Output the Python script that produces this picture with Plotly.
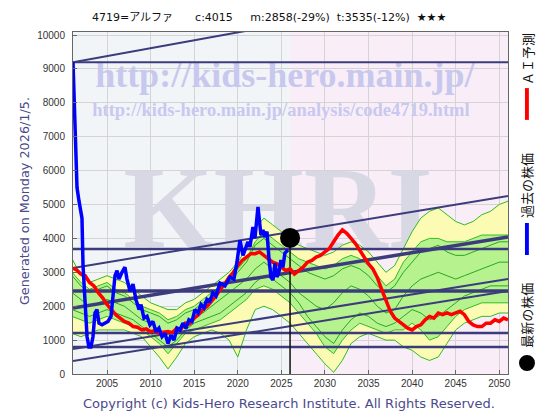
import plotly.graph_objects as go

# --- chart data ---
TITLE = "4719=アルファ\u3000\u3000c:4015\u00a0\u00a0\u00a0\u00a0\u00a0m:2858(-29%)\u00a0\u00a0t:3535(-12%)\u00a0\u00a0★★★"

X_TICKS = list(range(2005, 2051, 5))
Y_TICKS = list(range(0, 10001, 1000))
Y_LABELS = [str(v) for v in Y_TICKS]

BAND_YEARS = list(range(2001, 2052))
OUTER_HI = [3400, 2900, 2700, 2800, 2900, 2800, 2700, 2500, 2300, 2100, 2000, 1900, 1900, 2100, 2200, 2400, 2600,
            2800, 3000, 3300, 3700, 4300, 4600, 4400, 4200, 4000, 3800, 3700, 3600, 3500, 3600, 3800, 3900, 3800,
            3600, 3300, 3000, 3200, 3700, 4200, 4600, 4800, 4900, 4700, 4500, 4400, 4500, 4700, 4800, 5000, 5100]
OUTER_LO = [1200, 1100, 1200, 1300, 1300, 1300, 1300, 1200, 1100, 800, 500, 150, 500, 900, 1100, 1200, 1300,
            1200, 1000, 500, 1300, 1900, 2000, 1900, 1700, 1500, 1200, 900, 600, 300, 50, 400, 900, 1100,
            1200, 1100, 1000, 1000, 800, 700, 500, 400, 500, 900, 1300, 1500, 1600, 1700, 1700, 1800, 1800]
INNER_HI = [3000, 2700, 2500, 2600, 2700, 2500, 2400, 2200, 2000, 1900, 1800, 1600, 1700, 1900, 2000, 2200, 2400,
            2600, 2800, 3100, 3400, 3900, 4200, 4000, 3800, 3600, 3400, 3300, 3200, 3100, 3200, 3400, 3500, 3400,
            3200, 2900, 2600, 2800, 3300, 3600, 3900, 4000, 4000, 3900, 3900, 3900, 4000, 4100, 4100, 4100, 4100]
INNER_LO = [1700, 1600, 1500, 1600, 1700, 1600, 1500, 1400, 1300, 1100, 900, 600, 900, 1200, 1300, 1400, 1500,
            1600, 1800, 2000, 2200, 2500, 2600, 2500, 2300, 2100, 1800, 1500, 1200, 800, 600, 1000, 1300, 1500,
            1400, 1300, 1200, 1300, 1300, 1500, 1300, 1000, 1100, 1400, 1700, 1900, 2000, 2100, 2100, 2100, 2100]
PATH_A = [2900, 2600, 2400, 2500, 2600, 2400, 2300, 2100, 1900, 1800, 1700, 1500, 1600, 1800, 1900, 2100, 2300,
          2500, 2700, 3000, 3300, 3800, 4000, 3800, 3600, 3400, 3200, 3000, 2900, 2800, 2900, 3100, 3200, 3100,
          2900, 2600, 2400, 2600, 3000, 3300, 3600, 3700, 3800, 3600, 3500, 3500, 3600, 3700, 3800, 3900, 3900]
PATH_B = [2400, 2200, 2000, 2100, 2200, 2100, 2000, 1800, 1600, 1500, 1300, 1200, 1300, 1500, 1700, 1800, 2000,
          2200, 2400, 2600, 2800, 3100, 3300, 3100, 2900, 2700, 2400, 2200, 2000, 1900, 2100, 2400, 2600, 2500,
          2300, 2000, 1800, 1900, 2300, 2600, 2800, 2900, 3000, 2900, 2800, 2900, 3000, 3100, 3200, 3300, 3300]
PATH_C = [1900, 1800, 1700, 1800, 1900, 1800, 1700, 1600, 1400, 1200, 1000, 800, 1000, 1300, 1500, 1600, 1700,
          1800, 2000, 2200, 2400, 2700, 2900, 2800, 2600, 2400, 2100, 1700, 1400, 1100, 900, 1300, 1600, 1800,
          1700, 1500, 1400, 1500, 1700, 1900, 1800, 1600, 1700, 1900, 2100, 2300, 2400, 2500, 2600, 2600, 2600]

# AI forecast (red)
RED_YEARS = [2001.1, 2001.6, 2002.0, 2002.5, 2003.0, 2003.5, 2004.0, 2004.5, 2005.0, 2005.5, 2006.0, 2006.5,
             2007.0, 2007.5, 2008.0, 2008.5, 2009.0, 2009.5, 2010.0, 2010.5, 2011.0, 2011.5, 2012.0, 2012.5,
             2013.0, 2013.5, 2014.0, 2014.5, 2015.0, 2015.5, 2016.0, 2016.5, 2017.0, 2017.5, 2018.0, 2018.5,
             2019.0, 2019.5, 2020.0, 2020.5, 2021.0, 2021.5, 2022.0, 2022.5, 2023.0, 2023.5, 2024.0, 2024.5,
             2025.0, 2025.5, 2026.0, 2026.5, 2027.0, 2027.5, 2028.0, 2028.5, 2029.0, 2029.5, 2030.0, 2030.5,
             2031.0, 2031.5, 2032.0, 2032.5, 2033.0, 2033.5, 2034.0, 2034.5, 2035.0, 2035.5, 2036.0, 2036.5,
             2037.0, 2037.5, 2038.0, 2038.5, 2039.0, 2039.5, 2040.0, 2040.5, 2041.0, 2041.5, 2042.0, 2042.5,
             2043.0, 2043.5, 2044.0, 2044.5, 2045.0, 2045.5, 2046.0, 2046.5, 2047.0, 2047.5, 2048.0, 2048.5,
             2049.0, 2049.5, 2050.0, 2050.5, 2051.0]
RED_VALUES = [3130, 3050, 2950, 2900, 2700, 2600, 2400, 2250, 2050, 1900, 1750, 1650,
              1550, 1500, 1400, 1380, 1300, 1330, 1250, 1280, 1200, 1230, 1250, 1220,
              1350, 1330, 1500, 1480, 1650, 1750, 1900, 2000, 2150, 2300, 2500, 2650,
              2850, 3000, 3200, 3350, 3450, 3550, 3550, 3600, 3500, 3400, 3300, 3250,
              3150, 3050, 3100, 2950, 3050, 3150, 3300, 3350, 3450, 3500, 3600, 3700,
              3900, 4100, 4250, 4150, 4000, 3850, 3650, 3450, 3250, 3100, 2850, 2500,
              2150, 1850, 1650, 1550, 1450, 1350, 1300, 1400, 1450, 1600, 1700, 1650,
              1800, 1750, 1800, 1750, 1800, 1850, 1750, 1550, 1450, 1400, 1400, 1500,
              1500, 1600, 1550, 1650, 1600]

# past price (blue)
BLUE_YEARS = [2001.10, 2001.33, 2001.56, 2001.79, 2001.90, 2002.13, 2002.25, 2002.48, 2002.71, 2002.93,
              2003.16, 2003.39, 2003.62, 2003.85, 2004.08, 2004.43, 2004.77, 2005.11, 2005.46, 2005.69,
              2005.92, 2006.15, 2006.38, 2006.72, 2007.06, 2007.29, 2007.64, 2007.98, 2008.32, 2008.67,
              2008.90, 2009.24, 2009.59, 2009.93, 2010.27, 2010.62, 2010.96, 2011.31, 2011.65, 2012.00,
              2012.34, 2012.68, 2013.03, 2013.37, 2013.71, 2014.06, 2014.40, 2014.75, 2015.09, 2015.44,
              2015.78, 2016.12, 2016.47, 2016.81, 2017.15, 2017.50, 2017.96, 2018.53, 2019.10, 2019.56,
              2019.91, 2020.25, 2020.60, 2020.83, 2021.17, 2021.40, 2021.74, 2021.97, 2022.32, 2022.66,
              2022.89, 2023.12, 2023.35, 2023.58, 2023.81, 2024.04, 2024.27, 2024.49, 2024.72, 2024.95,
              2025.18, 2025.41, 2025.76]
BLUE_PRICES = [9200, 7500, 5500, 5100, 4900, 4600, 3200, 1900, 1100, 800,
               800, 1100, 1800, 1900, 1500, 1450, 1500, 1550, 1700, 2450,
               2900, 3050, 2800, 3000, 3150, 2800, 2450, 2650, 2200, 1900,
               2050, 1650, 1700, 1450, 1550, 1250, 1350, 1100, 1200, 900,
               1150, 1000, 1350, 1300, 1500, 1350, 1600, 1550, 1900, 1800,
               2050, 1950, 2200, 2150, 2390, 2300, 2680, 2600, 2860, 2800,
               3300, 3950, 3500, 3660, 3900, 3750, 4340, 4000, 4930, 4100,
               4250, 4040, 4200, 3400, 2860, 2770, 3270, 2860, 3000, 3360,
               3150, 3570, 3660]

LATEST_YEAR = 2026.0
LATEST_PRICE = 4015

# support / resistance lines
LEVELS = [9200, 3690, 2450, 1210, 800]
LEVEL_WIDTHS = [2, 2.5, 3.5, 2.5, 2.5]
TREND_X = [2001.1, 2051]
TRENDS = [(9200, 11520), (3130, 5250), (1950, 4040), (740, 2800), (380, 2450)]
TREND_WIDTHS = [2, 2, 3.5, 2, 2]

NAVY = '#3c3c7c'
X0, X1 = 2001.1, 2051

fig = go.Figure()

# watermark text (drawn first so everything covers it)
fig.add_trace(go.Scatter(x=[2024.6], y=[4600], mode='text', text=['KHRI'],
                         textfont=dict(family='Liberation Serif', size=116, color='#d8d8e4', weight='bold'),
                         hoverinfo='skip', showlegend=False))
fig.add_trace(go.Scatter(x=[2025.4], y=[8720], mode='text', text=['http://kids-hero.main.jp/'],
                         textfont=dict(family='Liberation Serif', size=36, color='#c8c8ee', weight='bold'),
                         hoverinfo='skip', showlegend=False))
fig.add_trace(go.Scatter(x=[2024.95], y=[7760], mode='text',
                         text=['http://kids-hero.main.jp/analysis/code4719.html'],
                         textfont=dict(family='Liberation Serif', size=18.5, color='#c8c8f0', weight='bold'),
                         hoverinfo='skip', showlegend=False))

# similar-pattern bands
fig.add_trace(go.Scatter(x=BAND_YEARS, y=OUTER_HI, mode='lines', line=dict(color='#33bb22', width=1),
                         hoverinfo='skip', showlegend=False))
fig.add_trace(go.Scatter(x=BAND_YEARS, y=OUTER_LO, mode='lines', line=dict(color='#33bb22', width=1),
                         fill='tonexty', fillcolor='#fbfbb4', hoverinfo='skip', showlegend=False))
fig.add_trace(go.Scatter(x=BAND_YEARS, y=INNER_HI, mode='lines', line=dict(color='#33bb22', width=1),
                         hoverinfo='skip', showlegend=False))
fig.add_trace(go.Scatter(x=BAND_YEARS, y=INNER_LO, mode='lines', line=dict(color='#33bb22', width=1),
                         fill='tonexty', fillcolor='#b6f28e', hoverinfo='skip', showlegend=False))
for path in [PATH_A, PATH_B, PATH_C]:
    fig.add_trace(go.Scatter(x=BAND_YEARS, y=path, mode='lines', line=dict(color='#2aa820', width=1),
                             hoverinfo='skip', showlegend=False))

# navy horizontal levels and trend channels
for level, w in zip(LEVELS, LEVEL_WIDTHS):
    fig.add_trace(go.Scatter(x=TREND_X, y=[level, level], mode='lines', line=dict(color=NAVY, width=w),
                             hoverinfo='skip', showlegend=False))
for (a, b), w in zip(TRENDS, TREND_WIDTHS):
    fig.add_trace(go.Scatter(x=TREND_X, y=[a, b], mode='lines', line=dict(color=NAVY, width=w),
                             hoverinfo='skip', showlegend=False))

# vertical marker at the latest date
fig.add_trace(go.Scatter(x=[LATEST_YEAR, LATEST_YEAR], y=[0, LATEST_PRICE], mode='lines',
                         line=dict(color='#111111', width=1.5), hoverinfo='skip', showlegend=False))

# AI forecast and past price
fig.add_trace(go.Scatter(x=RED_YEARS, y=RED_VALUES, mode='lines', line=dict(color='#ff0000', width=3.5),
                         name='AI予測', showlegend=False))
fig.add_trace(go.Scatter(x=BLUE_YEARS, y=BLUE_PRICES, mode='lines', line=dict(color='#0000ff', width=3.5),
                         name='過去の株価', showlegend=False))
fig.add_trace(go.Scatter(x=[LATEST_YEAR], y=[LATEST_PRICE], mode='markers',
                         marker=dict(color='black', size=20), name='最新の株価', showlegend=False))

# background: past vs future
shapes = [
    dict(type='rect', xref='x', yref='paper', x0=X0, x1=LATEST_YEAR, y0=0, y1=1,
         fillcolor='#f1f5f8', line_width=0, layer='below'),
    dict(type='rect', xref='x', yref='paper', x0=LATEST_YEAR, x1=X1, y0=0, y1=1,
         fillcolor='#f9eef7', line_width=0, layer='below'),
    # legend symbols at the right
    dict(type='rect', xref='paper', yref='paper', x0=1.039, x1=1.048, y0=0.743, y1=0.836,
         fillcolor='#ff0000', line_width=0),
    dict(type='rect', xref='paper', yref='paper', x0=1.039, x1=1.048, y0=0.348, y1=0.4415,
         fillcolor='#0000ff', line_width=0),
    dict(type='circle', xref='paper', yref='paper', x0=1.0253, x1=1.062, y0=0.0088, y1=0.0556,
         fillcolor='black', line_width=0),
]

jp = 'Noto Sans CJK JP'
annotations = [
    dict(text=TITLE, xref='paper', yref='paper', x=0.039, y=1.041, xanchor='left', yanchor='middle',
         showarrow=False, font=dict(family='DejaVu Sans, ' + jp, size=11, color='#111111')),
    dict(text='Copyright (c) Kids-Hero Research Institute. All Rights Reserved.', xref='paper', yref='paper',
         x=0.4977, y=-0.085, xanchor='center', yanchor='middle', showarrow=False,
         font=dict(family='DejaVu Sans', size=13, color='#4a4a8c')),
    dict(text='Generated on Monday 2026/1/5.', xref='paper', yref='paper', x=-0.11, y=0.506,
         xanchor='center', yanchor='middle', textangle=-90, showarrow=False,
         font=dict(family='DejaVu Sans', size=12.8, color='#4a4a8c')),
    dict(text='ＡＩ予測', xref='paper', yref='paper', x=1.0437, y=0.921, xanchor='center', yanchor='middle',
         textangle=-90, showarrow=False, font=dict(family=jp, size=13, color='#111111')),
    dict(text='過去の株価', xref='paper', yref='paper', x=1.0437, y=0.550, xanchor='center', yanchor='middle',
         textangle=-90, showarrow=False, font=dict(family=jp, size=13, color='#111111')),
    dict(text='最新の株価', xref='paper', yref='paper', x=1.0437, y=0.170, xanchor='center', yanchor='middle',
         textangle=-90, showarrow=False, font=dict(family=jp, size=13, color='#111111')),
]

# page body has an 8px margin, so margins are trimmed to keep the plot box in place
fig.update_layout(
    width=560, height=420,
    margin=dict(l=65, r=60, t=24, b=54),
    paper_bgcolor='white', plot_bgcolor='white',
    shapes=shapes, annotations=annotations,
    showlegend=False,
    xaxis=dict(range=[X0, X1], tickvals=X_TICKS, showgrid=True, gridcolor='#d4d4d4',
               gridwidth=1, zeroline=False, showline=True, linecolor='#666666', linewidth=1, mirror=True,
               ticks='inside', ticklen=4, tickcolor='#666666',
               tickfont=dict(family='Liberation Sans', size=10, color='#333333')),
    yaxis=dict(range=[0, 10090], tickvals=Y_TICKS, ticktext=Y_LABELS, showgrid=True, gridcolor='#d4d4d4',
               gridwidth=1, zeroline=False, showline=True, linecolor='#666666', linewidth=1, mirror=True,
               ticks='inside', ticklen=4, tickcolor='#666666', ticklabelstandoff=5,
               tickfont=dict(family='Liberation Sans', size=10, color='#333333')),
)

fig.write_html("out.html")
